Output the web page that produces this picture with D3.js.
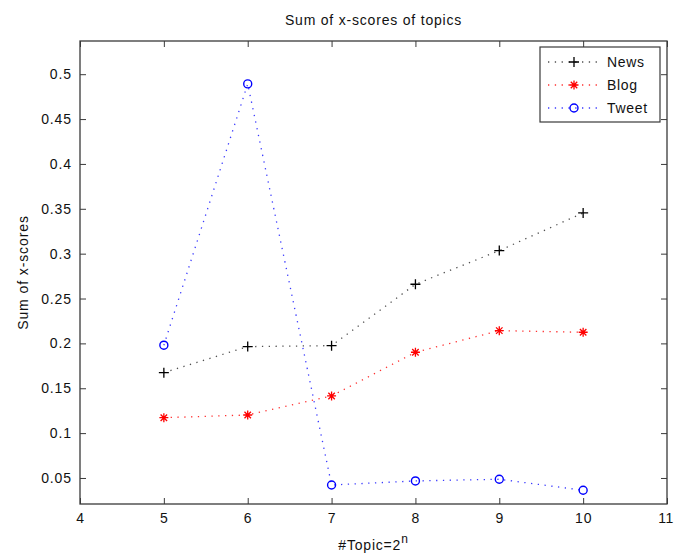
<!DOCTYPE html>
<html>
<head>
<meta charset="utf-8">
<script src="https://cdn.jsdelivr.net/npm/d3@7"></script>
<style>
  html, body { margin: 0; padding: 0; background: #fff; }
  svg { display: block; }
  text { font-family: "Liberation Sans", Arial, Helvetica, sans-serif; fill: #111; }
</style>
</head>
<body>
<svg id="chart" width="674" height="559"></svg>
<script>
// Number of topics is 2^n; these are the exponents n
const topicExponents = [5, 6, 7, 8, 9, 10];

// Sum of x-scores per corpus
const newsScores  = [0.1674, 0.1964, 0.1975, 0.2659, 0.3034, 0.3454];
const blogScores  = [0.1172, 0.1202, 0.1414, 0.1901, 0.2142, 0.2124];
const tweetScores = [0.1980, 0.4892, 0.0422, 0.0467, 0.0486, 0.0363];

const seriesNames = ["News", "Blog", "Tweet"];

const xTicks = [4, 5, 6, 7, 8, 9, 10, 11];
const yTicks = [0.05, 0.1, 0.15, 0.2, 0.25, 0.3, 0.35, 0.4, 0.45, 0.5];

const chartTitle = "Sum of x-scores of topics";
const yTitle = "Sum of x-scores";

const svg = d3.select("#chart");

const plotLeft = 80, plotRight = 667, plotTop = 41, plotBottom = 504;
const x = d3.scaleLinear().domain([4, 11]).range([plotLeft, plotRight]);
const y = d3.scaleLinear().domain([0.021, 0.537]).range([plotBottom, plotTop]);

const axisColor = "#3a3a3a";
const tickFont = 14;

// Axes: labelled bottom/left, tick-only top/right, ticks pointing inward
function styleAxis(g) {
  g.select(".domain").remove();
  g.selectAll(".tick line").attr("stroke", axisColor).attr("stroke-width", 1);
  g.selectAll(".tick text")
    .style("font-size", tickFont + "px")
    .style("letter-spacing", "0.9px")
    .attr("fill", "#1a1a1a");
}

const xAxisG = svg.append("g")
  .attr("transform", `translate(0,${plotBottom})`)
  .call(d3.axisBottom(x).tickValues(xTicks).tickFormat(d3.format("d"))
        .tickSizeInner(-6).tickSizeOuter(0).tickPadding(9))
  .call(styleAxis);

// The last x label sits at the page's right edge; keep it inside
xAxisG.selectAll(".tick text")
  .filter(d => d === xTicks[xTicks.length - 1])
  .style("letter-spacing", "0.3px")
  .attr("text-anchor", "end")
  .attr("x", 673 - plotRight);

svg.append("g")
  .attr("transform", `translate(0,${plotTop})`)
  .call(d3.axisTop(x).tickValues(xTicks).tickFormat("")
        .tickSizeInner(-6).tickSizeOuter(0))
  .call(styleAxis);

svg.append("g")
  .attr("transform", `translate(${plotLeft},0)`)
  .call(d3.axisLeft(y).tickValues(yTicks).tickFormat(d => String(+d.toFixed(2)))
        .tickSizeInner(-6).tickSizeOuter(0).tickPadding(8))
  .call(styleAxis);

svg.append("g")
  .attr("transform", `translate(${plotRight},0)`)
  .call(d3.axisRight(y).tickValues(yTicks).tickFormat("")
        .tickSizeInner(-6).tickSizeOuter(0))
  .call(styleAxis);

// Plot box
svg.append("rect")
  .attr("x", plotLeft).attr("y", plotTop)
  .attr("width", plotRight - plotLeft).attr("height", plotBottom - plotTop)
  .attr("fill", "none").attr("stroke", axisColor).attr("stroke-width", 1.3);

// Titles
svg.append("text")
  .attr("x", (plotLeft + plotRight) / 2).attr("y", 25)
  .attr("text-anchor", "middle")
  .style("font-size", "14px").style("letter-spacing", "0.8px")
  .text(chartTitle);

svg.append("text")
  .attr("transform", `translate(28,${(plotTop + plotBottom) / 2}) rotate(-90)`)
  .attr("text-anchor", "middle")
  .style("font-size", "14px").style("letter-spacing", "0.9px")
  .text(yTitle);

const xl = svg.append("text")
  .attr("x", (plotLeft + plotRight) / 2).attr("y", 550)
  .attr("text-anchor", "middle")
  .style("font-size", "14px").style("letter-spacing", "0.8px");
xl.append("tspan").text("#Topic=2");
xl.append("tspan").attr("dy", -7).style("font-size", "12px").text("n");

// Marker shapes
const markers = {
  plus: (g, s) => g.append("path")
    .attr("d", `M${-s},0H${s}M0,${-s}V${s}`),
  star: (g, s) => {
    const d = s * 0.72;
    return g.append("path")
      .attr("d", `M${-s},0H${s}M0,${-s}V${s}M${-d},${-d}L${d},${d}M${-d},${d}L${d},${-d}`);
  },
  circle: (g, s) => g.append("circle").attr("r", s).attr("fill", "none")
};

const series = [
  { name: seriesNames[0], values: newsScores,  color: "#000000", dot: "#505050", marker: "plus",   size: 5,   sw: 1.3 },
  { name: seriesNames[1], values: blogScores,  color: "#ff0000", dot: "#ff3030", marker: "star",   size: 4.5, sw: 1.3 },
  { name: seriesNames[2], values: tweetScores, color: "#0000ff", dot: "#3a3aff", marker: "circle", size: 4,   sw: 1.4 }
];

const line = d3.line().x((d, i) => x(topicExponents[i])).y(d => y(d));

const plot = svg.append("g");
series.forEach(s => {
  plot.append("path")
    .datum(s.values)
    .attr("d", line)
    .attr("fill", "none")
    .attr("stroke", s.dot)
    .attr("stroke-width", 1.3)
    .attr("stroke-dasharray", "1.3,5.5");
});
series.forEach(s => {
  s.values.forEach((v, i) => {
    const g = plot.append("g")
      .attr("transform", `translate(${x(topicExponents[i])},${y(v)})`);
    markers[s.marker](g, s.size)
      .attr("stroke", s.color).attr("stroke-width", s.sw);
  });
});

// Legend
const legend = svg.append("g");
legend.append("rect")
  .attr("x", 540).attr("y", 47).attr("width", 120).attr("height", 75)
  .attr("fill", "#fff").attr("stroke", axisColor).attr("stroke-width", 1.2);

series.forEach((s, i) => {
  const ly = 62 + i * 23;
  legend.append("line")
    .attr("x1", 548).attr("x2", 600).attr("y1", ly).attr("y2", ly)
    .attr("stroke", s.dot).attr("stroke-width", 1.3)
    .attr("stroke-dasharray", "1.3,5.5");
  const g = legend.append("g").attr("transform", `translate(574,${ly})`);
  markers[s.marker](g, s.size).attr("stroke", s.color).attr("stroke-width", s.sw);
  legend.append("text")
    .attr("x", 607).attr("y", ly + 5)
    .style("font-size", "14px").style("letter-spacing", "0.7px")
    .text(s.name);
});
</script>
</body>
</html>
